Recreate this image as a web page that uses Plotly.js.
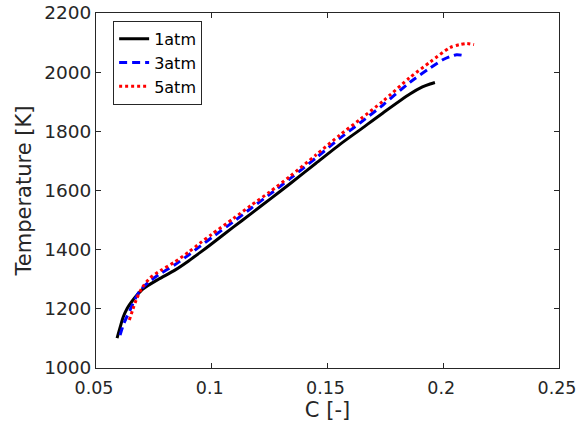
<!DOCTYPE html>
<html>
<head>
<meta charset="utf-8">
<script src="https://cdn.plot.ly/plotly-3.0.1.min.js"></script>
<style>html,body{margin:0;padding:0;background:#fff;}#chart{width:577px;height:425px;}</style>
</head>
<body>
<div id="chart"></div>
<script>
// 1 atm
const x1atm = [0.0591, 0.0605, 0.0618, 0.0635, 0.0654, 0.0680, 0.0704, 0.0770, 0.0839, 0.0900, 0.0949, 0.1000, 0.1093, 0.1170, 0.1252, 0.1338, 0.1450, 0.1554, 0.1640, 0.1741, 0.1856, 0.1910, 0.1943, 0.1964];
const T1atm = [1101, 1140, 1173, 1202, 1224, 1249, 1268, 1300, 1330, 1362, 1390, 1420, 1476, 1522, 1571, 1623, 1692, 1756, 1805, 1863, 1926, 1950, 1960, 1965];
// 3 atm
const x3atm = [0.0604, 0.0620, 0.0647, 0.0670, 0.0690, 0.0730, 0.0780, 0.0839, 0.0900, 0.0949, 0.1000, 0.1093, 0.1170, 0.1252, 0.1338, 0.1450, 0.1554, 0.1640, 0.1741, 0.1856, 0.1943, 0.2000, 0.2030, 0.2058, 0.2084];
const T3atm = [1111, 1150, 1196, 1235, 1262, 1292, 1320, 1348, 1382, 1411, 1441, 1494, 1540, 1588, 1640, 1710, 1777, 1828, 1890, 1966, 2014, 2043, 2053, 2059, 2057];
// 5 atm
const x5atm = [0.0644, 0.0660, 0.0676, 0.0700, 0.0733, 0.0780, 0.0839, 0.0900, 0.0949, 0.1000, 0.1093, 0.1170, 0.1252, 0.1338, 0.1450, 0.1554, 0.1640, 0.1741, 0.1856, 0.1943, 0.2029, 0.2070, 0.2101, 0.2133];
const T5atm = [1162, 1200, 1235, 1272, 1304, 1330, 1358, 1392, 1422, 1452, 1505, 1550, 1596, 1648, 1720, 1788, 1840, 1903, 1982, 2034, 2083, 2093, 2097, 2093];

const xTicks = [0.05, 0.1, 0.15, 0.2, 0.25];
const xTickText = ['0.05', '0.1', '0.15', '0.2', '0.25'];
const yTicks = [1000, 1200, 1400, 1600, 1800, 2000, 2200];

const FONT = 'DejaVu Sans, Liberation Sans, sans-serif';
const AXC = '#262626';

const traces = [
  {x: x1atm, y: T1atm, name: '1atm', mode: 'lines',
   line: {color: '#000000', width: 3, shape: 'spline', smoothing: 0.7}},
  {x: x3atm, y: T3atm, name: '3atm', mode: 'lines',
   line: {color: '#0000ff', width: 3, dash: '8px,5px', shape: 'spline', smoothing: 0.7}},
  {x: x5atm, y: T5atm, name: '5atm', mode: 'lines',
   line: {color: '#ff0000', width: 3, dash: '3px,3px', shape: 'spline', smoothing: 0.7}}
];

const layout = {
  width: 577, height: 425,
  margin: {l: 96, r: 18, t: 13, b: 57, pad: 0},
  paper_bgcolor: '#ffffff', plot_bgcolor: '#ffffff',
  font: {family: FONT, color: AXC},
  showlegend: true,
  legend: {
    x: 0.037, y: 0.978, xanchor: 'left', yanchor: 'top',
    bgcolor: '#ffffff', bordercolor: AXC, borderwidth: 1,
    font: {family: FONT, size: 16, color: '#000000'},
    itemwidth: 30, tracegroupgap: 0
  },
  xaxis: {
    range: [0.0499999, 0.2500001], tickvals: xTicks, ticktext: xTickText,
    ticks: 'inside', ticklen: 5, tickcolor: AXC, tickwidth: 1,
    showline: true, linecolor: AXC, linewidth: 1, mirror: 'ticks',
    showgrid: false, zeroline: false, ticklabeloverflow: 'allow',
    ticklabelshift: -2, ticklabelstandoff: 4,
    tickfont: {family: FONT, size: 17.5, color: AXC},
    title: {text: 'C [-]', font: {family: FONT, size: 21, color: AXC}, standoff: 1}
  },
  yaxis: {
    range: [1000, 2200], tickvals: yTicks,
    ticks: 'inside', ticklen: 5, tickcolor: AXC, tickwidth: 1,
    showline: true, linecolor: AXC, linewidth: 1, mirror: 'ticks',
    showgrid: false, zeroline: false,
    tickfont: {family: FONT, size: 18.5, color: AXC},
    title: {text: 'Temperature [K]', font: {family: FONT, size: 21, color: AXC}, standoff: 6}
  }
};

Plotly.newPlot('chart', traces, layout, {displayModeBar: false, staticPlot: true});
</script>
</body>
</html>
